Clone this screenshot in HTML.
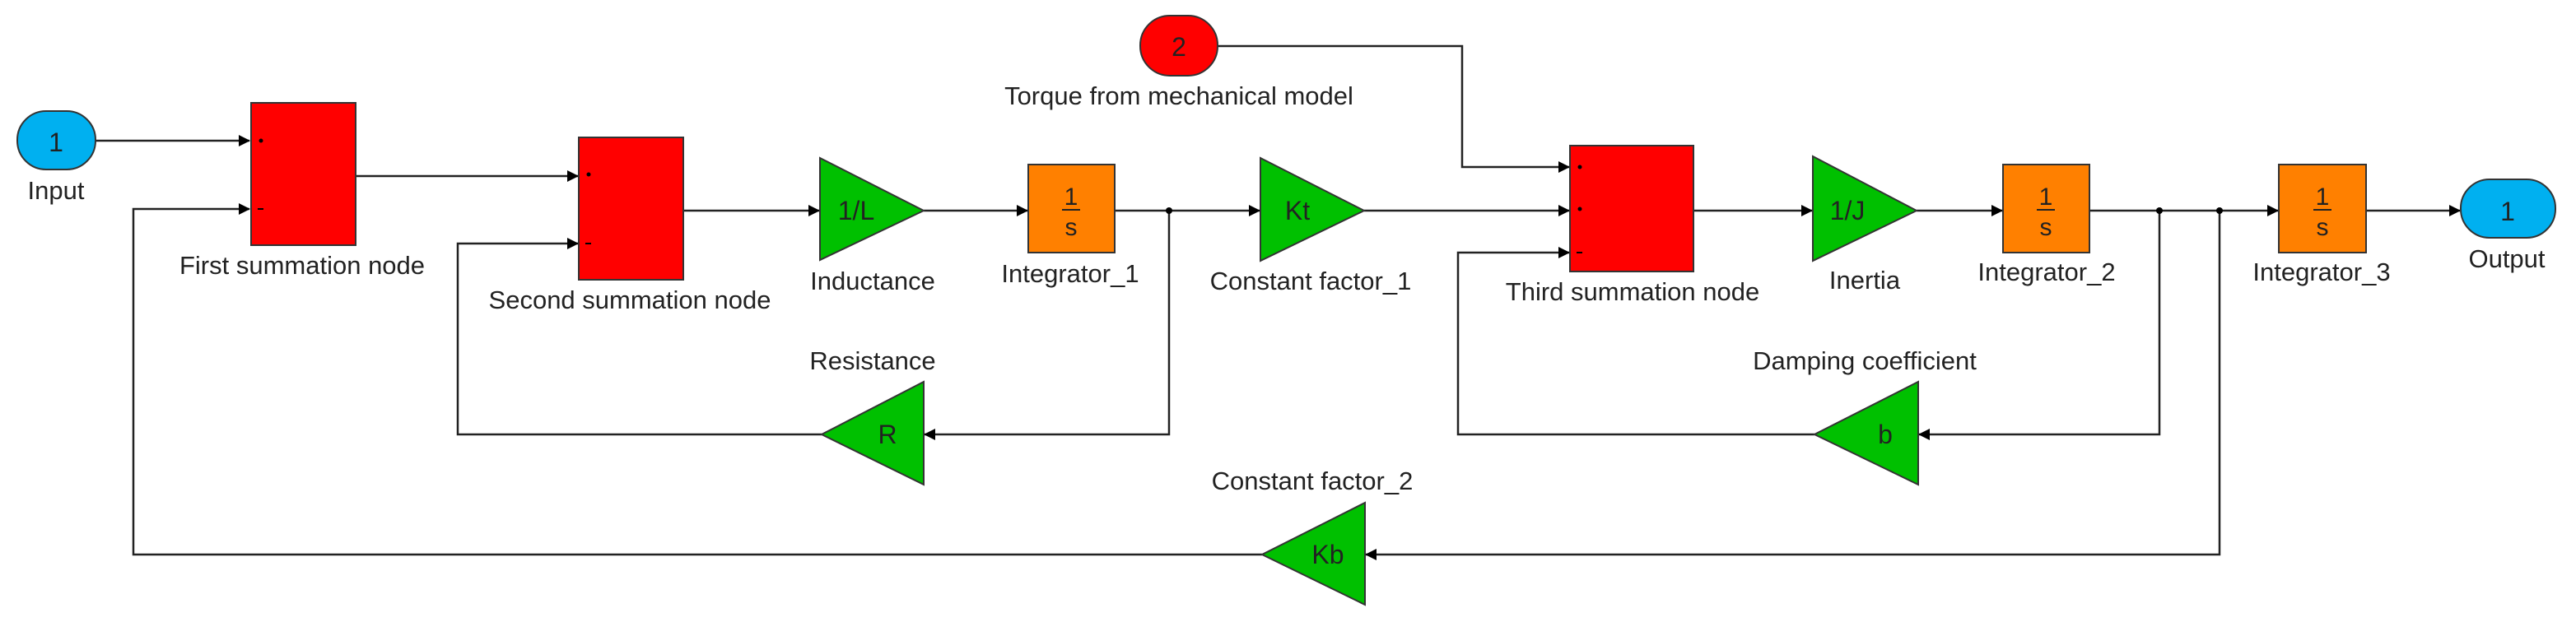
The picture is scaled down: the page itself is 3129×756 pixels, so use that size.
<!DOCTYPE html>
<html><head><style>body{margin:0;background:#fff}svg{display:block}text{font-family:"Liberation Sans",Arial,sans-serif;fill:#222}</style></head>
<body>
<svg width="3129" height="756" viewBox="0 0 3129 756" xmlns="http://www.w3.org/2000/svg">
<defs>
<marker id="a" markerWidth="14" markerHeight="14" refX="13" refY="7" orient="auto" markerUnits="userSpaceOnUse">
<path d="M0,0 L14,7 L0,14 Z" fill="#000"/></marker>
</defs>
<g stroke="#222" stroke-width="2.5" fill="none">
<path d="M116,171 H303" marker-end="url(#a)"/>
<path d="M432,214 H702" marker-end="url(#a)"/>
<path d="M830,256 H995" marker-end="url(#a)"/>
<path d="M1122,256 H1248" marker-end="url(#a)"/>
<path d="M1354,256 H1530" marker-end="url(#a)"/>
<path d="M1657,256 H1906" marker-end="url(#a)"/>
<path d="M1479,56 H1776 V203 H1906" marker-end="url(#a)"/>
<path d="M2057,256 H2201" marker-end="url(#a)"/>
<path d="M2328,256 H2432" marker-end="url(#a)"/>
<path d="M2538,256 H2767" marker-end="url(#a)"/>
<path d="M2874,256 H2988" marker-end="url(#a)"/>
<path d="M1420,256 V528 H1123" marker-end="url(#a)"/>
<path d="M998,528 H556 V296 H702" marker-end="url(#a)"/>
<path d="M2623,256 V528 H2331" marker-end="url(#a)"/>
<path d="M2204,528 H1771 V307 H1906" marker-end="url(#a)"/>
<path d="M2696,256 V674 H1659" marker-end="url(#a)"/>
<path d="M1533,674 H162 V254 H303" marker-end="url(#a)"/>
</g>
<g fill="#000"><circle cx="1420" cy="256" r="4"/><circle cx="2623" cy="256" r="4"/><circle cx="2696" cy="256" r="4"/></g>
<rect x="21" y="135" width="95" height="71" rx="35" fill="#00b0f0" stroke="#333" stroke-width="2"/>
<text x="68" y="184" font-size="32" text-anchor="middle">1</text>
<rect x="2989" y="218" width="115" height="71" rx="35" fill="#00b0f0" stroke="#333" stroke-width="2"/>
<text x="3046" y="268" font-size="32" text-anchor="middle">1</text>
<rect x="1385" y="19" width="94" height="73" rx="36" fill="#f00" stroke="#333" stroke-width="2"/>
<text x="1432" y="68" font-size="32" text-anchor="middle">2</text>
<g fill="#f00" stroke="#333" stroke-width="2">
<rect x="305" y="125" width="127" height="173"/>
<rect x="703" y="167" width="127" height="173"/>
<rect x="1907" y="177" width="150" height="153"/>
</g>
<g fill="#000"><circle cx="317" cy="171" r="2.5"/><rect x="313" y="253" width="7" height="2"/>
<circle cx="715" cy="212" r="2.5"/><rect x="711" y="295" width="7" height="2"/>
<circle cx="1919" cy="203" r="2.5"/><circle cx="1919" cy="254" r="2.5"/><rect x="1915" y="306" width="7" height="2"/></g>
<g fill="#00c000" stroke="#333" stroke-width="2">
<path d="M996,192 L1122,256 L996,316 Z"/>
<path d="M1531,192 L1657,256 L1531,317 Z"/>
<path d="M2202,190 L2328,256 L2202,317 Z"/>
<path d="M1122,464 L998,528 L1122,589 Z"/>
<path d="M2330,464 L2204,528 L2330,589 Z"/>
<path d="M1658,611 L1533,674 L1658,735 Z"/>
</g>
<g font-size="32" text-anchor="middle">
<text x="1040" y="267">1/L</text><text x="1576" y="267">Kt</text><text x="2244" y="267">1/J</text>
<text x="1078" y="539">R</text><text x="2290" y="539">b</text><text x="1613" y="685">Kb</text>
</g>
<g fill="#ff8000" stroke="#333" stroke-width="2">
<rect x="1249" y="200" width="105" height="107"/>
<rect x="2433" y="200" width="105" height="107"/>
<rect x="2768" y="200" width="106" height="107"/>
</g>
<g font-size="30" text-anchor="middle">
<text x="1301" y="249">1</text><text x="1301" y="286">s</text>
<text x="2485" y="249">1</text><text x="2485" y="286">s</text>
<text x="2821" y="249">1</text><text x="2821" y="286">s</text>
</g>
<g stroke="#222" stroke-width="2"><path d="M1290,255 H1312"/><path d="M2474,255 H2496"/><path d="M2810,255 H2832"/></g>
<g font-size="31" text-anchor="middle">
<text x="68" y="242">Input</text>
<text x="367" y="333">First summation node</text>
<text x="765" y="375">Second summation node</text>
<text x="1060" y="352">Inductance</text>
<text x="1060" y="449">Resistance</text>
<text x="1300" y="343">Integrator_1</text>
<text x="1592" y="352">Constant factor_1</text>
<text x="1432" y="127">Torque from mechanical model</text>
<text x="1983" y="365">Third summation node</text>
<text x="2265" y="351">Inertia</text>
<text x="2265" y="449">Damping coefficient</text>
<text x="2486" y="341">Integrator_2</text>
<text x="2820" y="341">Integrator_3</text>
<text x="3045" y="325">Output</text>
<text x="1594" y="595">Constant factor_2</text>
</g>
</svg>
</body></html>
